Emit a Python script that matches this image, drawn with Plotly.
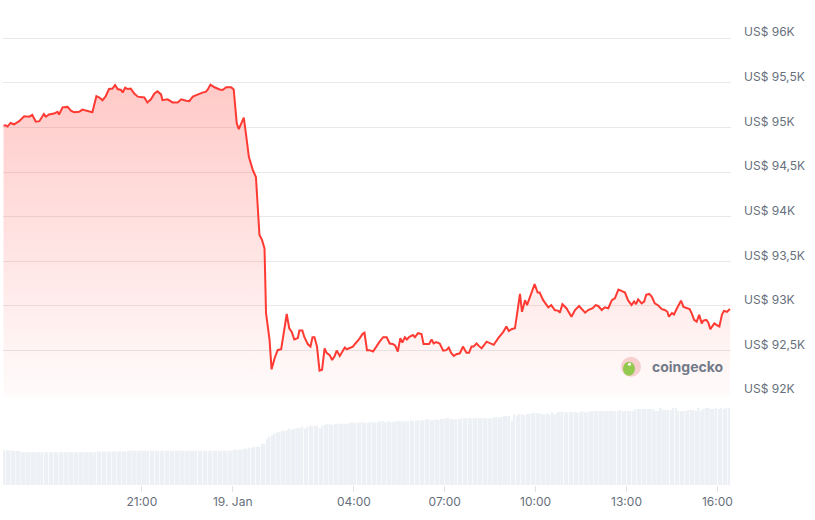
import pandas as pd
import plotly.graph_objects as go

# Price line (USD)
jan18_times = [
    "16:26", "16:30", "16:34", "16:40", "16:47", "16:57", "17:07", "17:17", "17:23", "17:30",
    "17:37", "17:46", "17:50", "17:56", "18:06", "18:13", "18:16", "18:23", "18:33", "18:40",
    "18:46", "18:56", "19:02", "19:12", "19:22", "19:30", "19:36", "19:42", "19:48", "19:55",
    "20:02", "20:07", "20:12", "20:19", "20:22", "20:27", "20:32", "20:38", "20:45", "20:52",
    "21:05", "21:11", "21:18", "21:25", "21:31", "21:38", "21:41", "21:51", "22:01", "22:11",
    "22:18", "22:28", "22:34", "22:41", "22:51", "23:00", "23:07", "23:10", "23:16", "23:24",
    "23:34", "23:40", "23:47", "23:57",
]
jan18_prices = [
    95020, 95025, 95010, 95050, 95035, 95070, 95125, 95120, 95140, 95065,
    95070, 95150, 95120, 95145, 95155, 95175, 95145, 95225, 95230, 95185,
    95170, 95175, 95200, 95185, 95170, 95350, 95335, 95305, 95345, 95430,
    95435, 95475, 95430, 95420, 95390, 95445, 95430, 95435, 95380, 95345,
    95335, 95280, 95315, 95380, 95405, 95370, 95305, 95315, 95280, 95280,
    95315, 95300, 95295, 95345, 95370, 95390, 95400, 95420, 95480, 95450,
    95425, 95420, 95450, 95450,
]
jan19_times = [
    "00:02", "00:05", "00:08", "00:12", "00:17", "00:22", "00:27", "00:32", "00:40", "00:46",
    "00:53", "00:58", "01:03", "01:06", "01:13", "01:17", "01:23", "01:29", "01:36", "01:39",
    "01:47", "01:52", "01:57", "02:02", "02:09", "02:12", "02:18", "02:22", "02:29", "02:34",
    "02:38", "02:42", "02:47", "02:52", "02:57", "03:02", "03:06", "03:12", "03:17", "03:22",
    "03:26", "03:32", "03:37", "03:42", "03:46", "03:51", "03:58", "04:03", "04:10", "04:17",
    "04:21", "04:26", "04:31", "04:38", "04:44", "04:51", "04:58", "05:05", "05:11", "05:17",
    "05:22", "05:27", "05:32", "05:36", "05:41", "05:45", "05:50", "05:57", "06:01", "06:07",
    "06:14", "06:18", "06:29", "06:34", "06:38", "06:43", "06:50", "06:57", "07:03", "07:08",
    "07:13", "07:18", "07:23", "07:30", "07:36", "07:43", "07:48", "07:53", "07:57", "08:03",
    "08:08", "08:13", "08:23", "08:31", "08:37", "08:46", "08:56", "09:02", "09:07", "09:12",
    "09:19", "09:23", "09:29", "09:33", "09:39", "09:43", "09:50", "09:58", "10:04", "10:08",
    "10:15", "10:25", "10:31", "10:38", "10:45", "10:48", "10:53", "11:01", "11:11", "11:18",
    "11:26", "11:31", "11:38", "11:44", "11:53", "11:59", "12:04", "12:11", "12:17", "12:24",
    "12:31", "12:37", "12:44", "12:50", "12:57", "13:03", "13:10", "13:15", "13:19", "13:23",
    "13:30", "13:35", "13:39", "13:45", "13:50", "13:56", "14:03", "14:10", "14:16", "14:21",
    "14:24", "14:30", "14:34", "14:40", "14:48", "14:53", "14:59", "15:05", "15:09", "15:14",
    "15:19", "15:24", "15:29", "15:32", "15:38", "15:42", "15:46", "15:49", "15:54", "15:59",
    "16:04", "16:09", "16:13", "16:19", "16:25",
]
jan19_prices = [
    95425, 95195, 95045, 94980, 95045, 95110, 94895, 94670, 94520, 94445,
    93795, 93740, 93645, 92920, 92620, 92290, 92415, 92505, 92515, 92620,
    92910, 92750, 92710, 92625, 92640, 92725, 92725, 92650, 92570, 92545,
    92650, 92650, 92545, 92275, 92285, 92525, 92475, 92450, 92395, 92440,
    92500, 92440, 92490, 92535, 92515, 92525, 92545, 92580, 92625, 92685,
    92700, 92505, 92505, 92490, 92545, 92600, 92650, 92650, 92580, 92575,
    92555, 92490, 92640, 92590, 92650, 92625, 92655, 92675, 92650, 92695,
    92685, 92575, 92575, 92625, 92580, 92595, 92580, 92500, 92505, 92535,
    92470, 92440, 92460, 92470, 92545, 92475, 92475, 92545, 92545, 92580,
    92550, 92525, 92600, 92580, 92565, 92640, 92710, 92770, 92720, 92740,
    92750, 92900, 93135, 92935, 93065, 93010, 93125, 93245, 93150, 93150,
    93065, 92985, 93010, 92955, 92945, 92925, 93020, 92975, 92880, 92955,
    93000, 92965, 92925, 92955, 92975, 93010, 93000, 92955, 92985, 92975,
    93065, 93085, 93185, 93170, 93150, 93065, 93010, 93050, 93020, 93075,
    93030, 93050, 93125, 93135, 93105, 93030, 93005, 92965, 92955, 92935,
    92880, 92920, 92905, 92975, 93060, 92990, 92975, 92965, 92920, 92845,
    92825, 92900, 92805, 92835, 92845, 92815, 92740, 92760, 92805, 92785,
    92770, 92900, 92945, 92935, 92965,
]

# Volume bars, 5-minute steps from 16:28 (USD bn)
volume_bn = [
    17.5, 17.5, 17.5, 17.5, 17.1, 17.1, 17.1, 16.5, 16.5, 16.5, 16.5, 16.5,
    16.5, 16.5, 16.5, 16.5, 16.5, 16.5, 16.5, 16.5, 16.5, 16.5, 16.5, 16.5,
    16.5, 16.5, 16.5, 16.5, 16.5, 16.5, 16.5, 16.5, 16.5, 16.5, 16.5, 16.5,
    16.5, 16.9, 16.9, 16.9, 16.9, 16.9, 16.9, 16.9, 16.9, 16.9, 16.9, 16.9,
    16.9, 17.25, 17.25, 17.25, 17.25, 17.25, 17.25, 17.25, 17.25, 17.25, 17.25, 17.25,
    17.25, 17.25, 17.25, 17.25, 17.25, 17.25, 17.25, 17.25, 17.25, 17.25, 17.25, 17.25,
    17.25, 17.25, 17.25, 17.25, 17.25, 17.25, 17.25, 17.25, 17.25, 17.25, 17.25, 17.25,
    17.25, 17.25, 17.25, 17.25, 17.25, 17.25, 17.25, 17.75, 17.75, 17.75, 17.75, 18.25,
    18.25, 18.75, 18.75, 19.25, 19.25, 19.25, 20.75, 20.75, 23.1, 24.25, 24.9, 25.75,
    26.4, 26.75, 27.25, 27.25, 27.4, 28.25, 27.75, 28.25, 28.6, 28.6, 29.25, 28.25,
    29.25, 29.75, 29.75, 29.75, 29.75, 28.4, 29.75, 30.25, 30.6, 30.6, 30.25, 30.75,
    30.75, 30.75, 30.75, 30.75, 30.75, 31.25, 31.25, 31.25, 31.25, 31.6, 31.6, 31.25,
    31.25, 31.6, 31.6, 31.6, 31.6, 32.1, 32.1, 31.6, 32.1, 31.6, 31.6, 32.1,
    32.1, 32.1, 32.1, 32.1, 32.1, 32.6, 32.25, 32.25, 32.6, 32.6, 32.6, 33.1,
    33.1, 32.75, 32.75, 33.1, 32.75, 33.25, 33.25, 33.6, 33.6, 33.1, 33.1, 33.25,
    33.25, 33.6, 33.6, 33.6, 33.6, 33.6, 33.6, 33.6, 33.6, 33.6, 33.6, 33.6,
    33.6, 33.6, 34.1, 34.1, 34.1, 34.1, 34.75, 34.75, 34.75, 32.25, 35.6, 34.9,
    35.6, 35.6, 35.25, 35.75, 35.75, 36.1, 36.1, 36.1, 36.1, 35.6, 35.6, 36.1,
    35.6, 36.6, 35.75, 36.4, 36.9, 36.9, 36.6, 36.6, 36.6, 36.6, 36.9, 36.6,
    36.6, 37.1, 36.6, 36.6, 37.1, 37.1, 37.25, 37.25, 37.25, 37.25, 37.25, 37.25,
    37.25, 37.25, 37.25, 37.25, 37.75, 37.25, 37.25, 37.25, 37.25, 37.25, 38.1, 38.25,
    38.25, 38.25, 38.25, 38.25, 38.25, 38.25, 37.25, 37.25, 38.75, 37.75, 37.75, 37.75,
    37.75, 38.75, 38.75, 37.25, 37.25, 37.25, 37.25, 37.75, 37.75, 37.75, 37.25, 38.75,
    37.25, 38.25, 38.75, 38.75, 38.25, 38.25, 38.75, 38.25, 38.75, 38.25, 38.75, 38.75,
]

tick_times = ["2026-01-18 21:00", "2026-01-19 00:00", "2026-01-19 04:00", "2026-01-19 07:00",
              "2026-01-19 10:00", "2026-01-19 13:00", "2026-01-19 16:00"]
tick_labels = ["21:00", "19. Jan", "04:00", "07:00", "10:00", "13:00", "16:00"]

price_ticks = [92000, 92500, 93000, 93500, 94000, 94500, 95000, 95500, 96000]
price_tick_labels = ["US$ 92K", "US$ 92,5K", "US$ 93K", "US$ 93,5K", "US$ 94K",
                     "US$ 94,5K", "US$ 95K", "US$ 95,5K", "US$ 96K"]

price_times = (["2026-01-18 " + t for t in jan18_times]
               + ["2026-01-19 " + t for t in jan19_times])
price_usd = jan18_prices + jan19_prices
volume_times = pd.date_range("2026-01-18 16:28", periods=len(volume_bn), freq="5min")

LINE_RED = "#ff3a33"
LABEL_GREY = "#676f7c"
FONT = "Inter, Roboto, sans-serif"

fig = go.Figure()

# volume (bottom panel)
fig.add_trace(go.Bar(
    x=volume_times,
    y=volume_bn,
    yaxis="y2",
    marker=dict(color="#edf0f4", line_width=0),
    hoverinfo="skip",
))

# price with fading red area
fig.add_trace(go.Scatter(
    x=price_times,
    y=price_usd,
    mode="lines",
    line=dict(color=LINE_RED, width=2),
    fill="tozeroy",
    fillgradient=dict(
        type="vertical",
        start=92000,
        stop=95500,
        colorscale=[[0, "rgba(255,58,51,0.02)"], [1, "rgba(255,58,51,0.27)"]],
    ),
))

fig.update_layout(
    width=815,
    height=520,
    margin=dict(l=3, r=84, t=20, b=35),
    paper_bgcolor="white",
    plot_bgcolor="white",
    showlegend=False,
    bargap=0.3,
    font=dict(family=FONT, size=12, color=LABEL_GREY),
    xaxis=dict(
        type="date",
        anchor="y2",
        range=["2026-01-18 16:25", "2026-01-19 16:27"],
        tickvals=tick_times,
        ticktext=tick_labels,
        ticks="outside",
        ticklen=6,
        tickcolor="#dfe3e9",
        showgrid=False,
        showline=False,
        zeroline=False,
        tickfont=dict(size=12, color=LABEL_GREY),
    ),
    yaxis=dict(
        domain=[0.1911, 0.9667],
        range=[91990, 96030],
        side="right",
        tickvals=price_ticks,
        ticktext=price_tick_labels,
        showgrid=True,
        gridcolor="#e9e9e9",
        gridwidth=1,
        zeroline=False,
        showline=False,
        ticks="",
        ticklabelstandoff=12,
        ticklabelshift=-6,
        tickfont=dict(size=12, color=LABEL_GREY),
    ),
    yaxis2=dict(
        domain=[0, 0.171],
        range=[0, 40],
        visible=False,
        showgrid=False,
    ),
)

# coingecko watermark
fig.add_shape(type="circle", xref="paper", yref="paper", xsizemode="pixel", ysizemode="pixel",
              xanchor=0.8626, yanchor=0.2544, x0=-10, x1=10, y0=-10, y1=10,
              fillcolor="#f8cfcf", line_width=0, layer="above")
fig.add_shape(type="circle", xref="paper", yref="paper", xsizemode="pixel", ysizemode="pixel",
              xanchor=0.8626, yanchor=0.2544, x0=-8, x1=4, y0=-9, y1=5,
              fillcolor="#93c94f", line_width=0, layer="above")
fig.add_shape(type="circle", xref="paper", yref="paper", xsizemode="pixel", ysizemode="pixel",
              xanchor=0.8626, yanchor=0.2544, x0=-3, x1=0, y0=1, y1=4,
              fillcolor="white", line_width=0, layer="above")
fig.add_annotation(
    text="<b>coingecko</b>", xref="paper", yref="paper", x=0.8887, y=0.2544,
    xanchor="left", yanchor="middle", showarrow=False,
    font=dict(family=FONT, size=14, color="#727a88"),
)

# drop the browser's default page margin so the figure sits at the window corner
fig.write_html("out.html", config={"displayModeBar": False},
               post_script="document.body.style.margin='0';")
